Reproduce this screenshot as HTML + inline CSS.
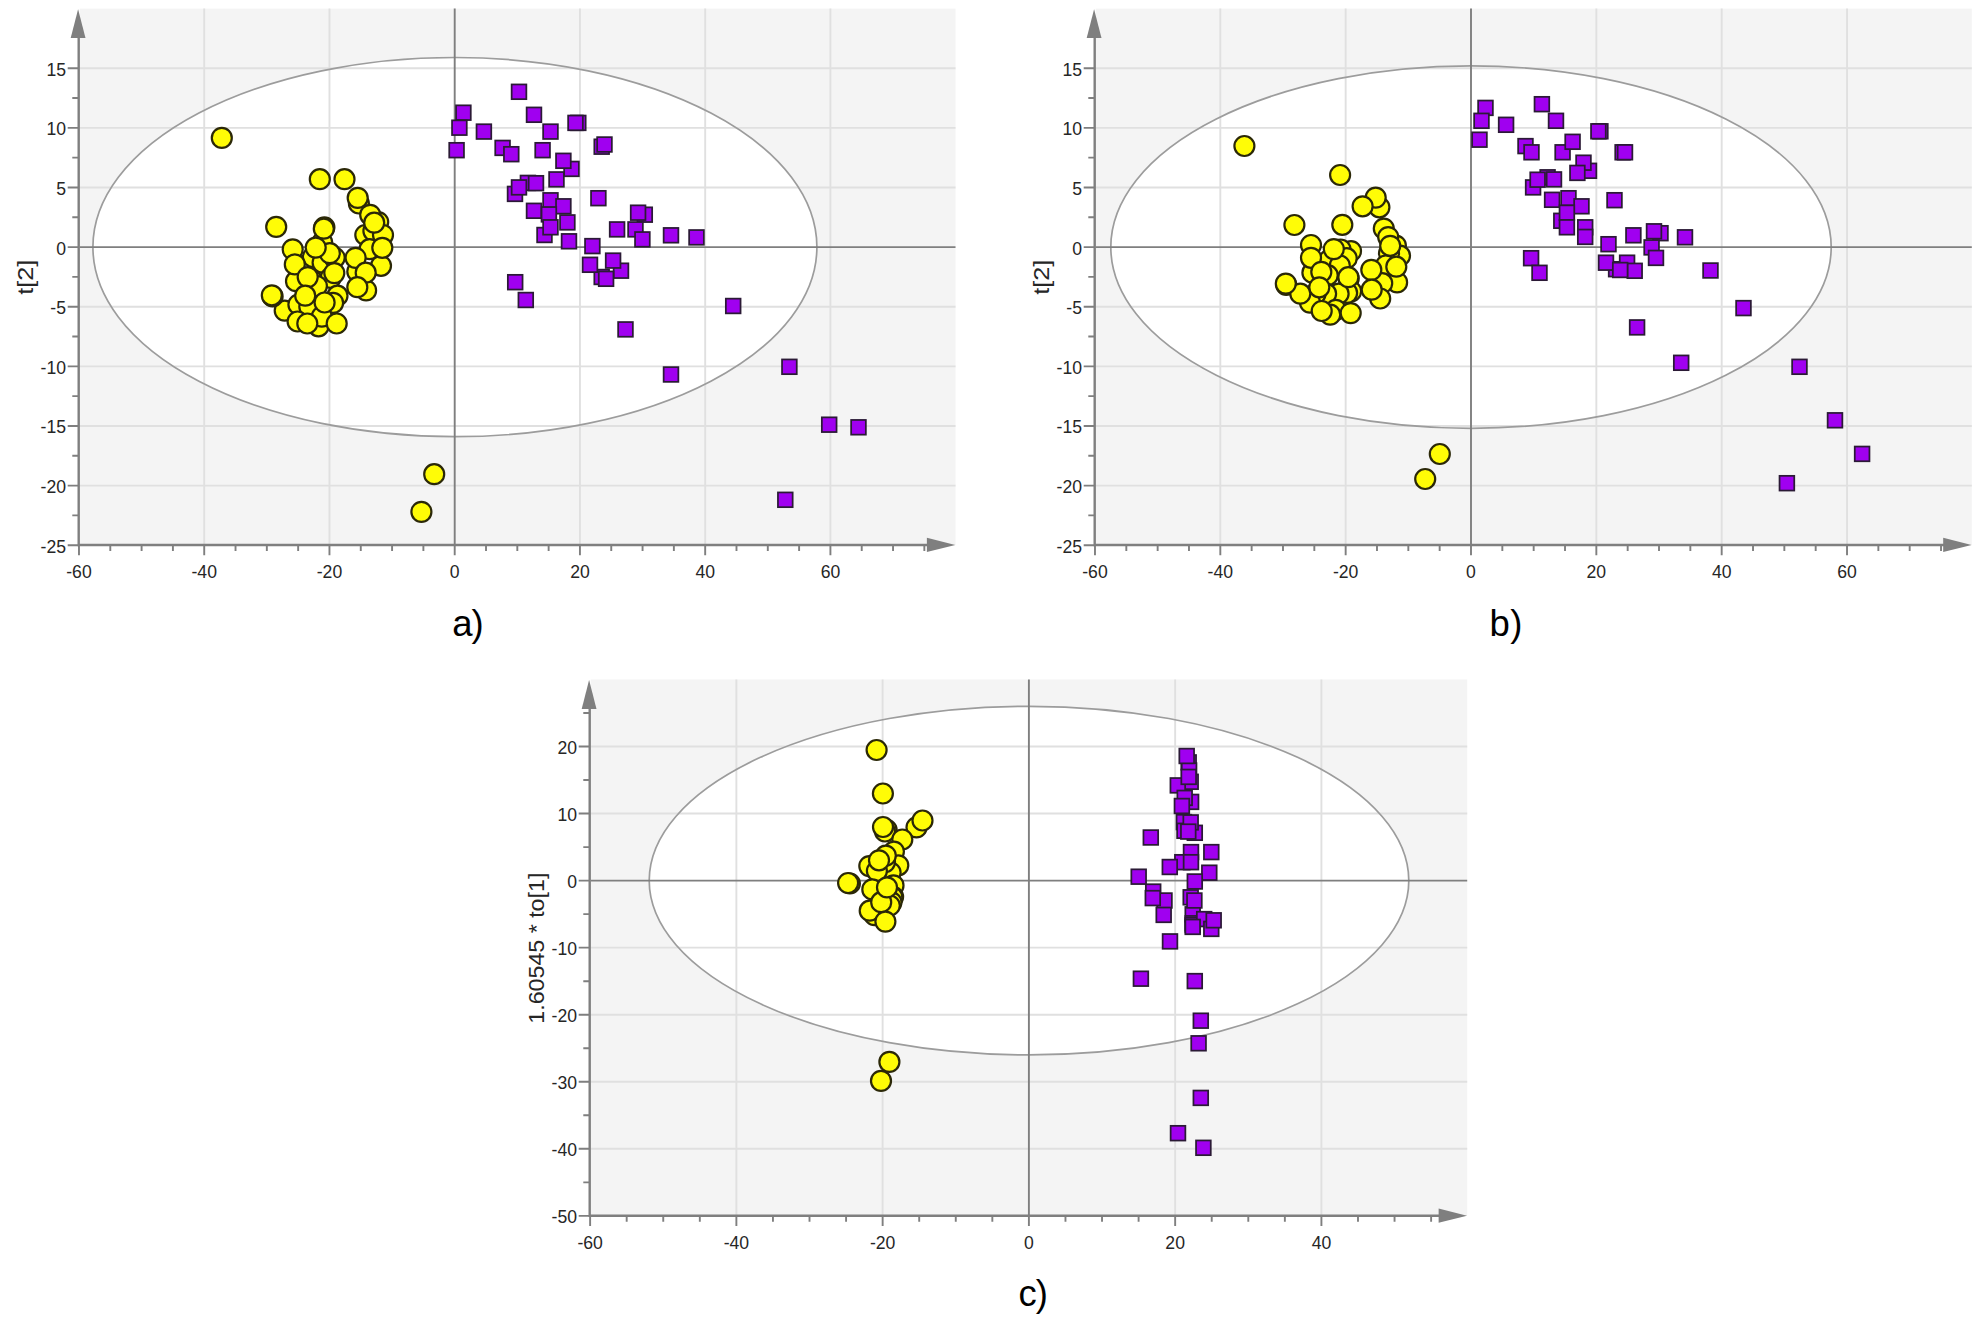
<!DOCTYPE html>
<html lang="en"><head><meta charset="utf-8"><title>Score plots</title>
<style>html,body{margin:0;padding:0;background:#fff}body{width:1984px;height:1318px;overflow:hidden}svg{display:block}text{font-family:"Liberation Sans",sans-serif}</style></head><body>
<svg width="1984" height="1318" viewBox="0 0 1984 1318">
<rect width="1984" height="1318" fill="#fff"/>
<g>
<rect x="79.7" y="8.6" width="875.8" height="536.4" fill="#f4f4f4"/>
<ellipse cx="454.9" cy="247.1" rx="362" ry="189.6" fill="#fff"/>
<path d="M204.22 8.6V545M329.46 8.6V545M579.94 8.6V545M705.18 8.6V545M830.42 8.6V545M79.7 485.6H955.5M79.7 425.98H955.5M79.7 366.35H955.5M79.7 306.73H955.5M79.7 187.47H955.5M79.7 127.85H955.5M79.7 68.22H955.5" stroke="#e0e0e0" stroke-width="1.9" fill="none"/>
<ellipse cx="454.9" cy="247.1" rx="362" ry="189.6" fill="none" stroke="#9c9c9c" stroke-width="1.7"/>
<path d="M79.7 247.1H955.5M454.7 8.6V545" stroke="#7f7f7f" stroke-width="1.9" fill="none"/>
<path d="M78.7 34.6V545H929.5" stroke="#7f7f7f" stroke-width="2.4" fill="none" stroke-linejoin="miter"/>
<path d="M78.98 545v10.2M204.22 545v10.2M329.46 545v10.2M454.7 545v10.2M579.94 545v10.2M705.18 545v10.2M830.42 545v10.2M110.29 545v6M141.6 545v6M172.91 545v6M235.53 545v6M266.84 545v6M298.15 545v6M360.77 545v6M392.08 545v6M423.39 545v6M486.01 545v6M517.32 545v6M548.63 545v6M611.25 545v6M642.56 545v6M673.87 545v6M736.49 545v6M767.8 545v6M799.11 545v6M861.73 545v6M893.04 545v6M924.35 545v6M78.7 545.23h-11M78.7 485.6h-11M78.7 425.98h-11M78.7 366.35h-11M78.7 306.73h-11M78.7 247.1h-11M78.7 187.47h-11M78.7 127.85h-11M78.7 68.22h-11M78.7 515.41h-6.4M78.7 455.79h-6.4M78.7 396.16h-6.4M78.7 336.54h-6.4M78.7 276.91h-6.4M78.7 217.29h-6.4M78.7 157.66h-6.4M78.7 98.04h-6.4" stroke="#7f7f7f" stroke-width="1.9" fill="none"/>
<path d="M78.1 9.2l-7.4 28.8h14.8z" fill="#7f7f7f"/>
<path d="M955.3 544.9l-28.4 -7.1v14.2z" fill="#7f7f7f"/>
<g fill="#fffc06" stroke="#2b2808" stroke-width="2.2">
<circle cx="284.7" cy="310.6" r="10.0"/>
<circle cx="365.3" cy="235" r="10.0"/>
<circle cx="358.9" cy="203.5" r="10.0"/>
<circle cx="378.2" cy="222.1" r="10.0"/>
<circle cx="373.4" cy="231" r="10.0"/>
<circle cx="383" cy="235" r="10.0"/>
<circle cx="369.6" cy="249.2" r="10.0"/>
<circle cx="324.4" cy="227.3" r="10.0"/>
<circle cx="322.2" cy="242.5" r="10.0"/>
<circle cx="312.9" cy="257" r="10.0"/>
<circle cx="322.6" cy="262.6" r="10.0"/>
<circle cx="334.7" cy="257.8" r="10.0"/>
<circle cx="329.8" cy="253.2" r="10.0"/>
<circle cx="330.6" cy="277.9" r="10.0"/>
<circle cx="311.3" cy="279.5" r="10.0"/>
<circle cx="316.9" cy="286" r="10.0"/>
<circle cx="357.3" cy="271.5" r="10.0"/>
<circle cx="381" cy="265.8" r="10.0"/>
<circle cx="366.1" cy="290.4" r="10.0"/>
<circle cx="296" cy="281.2" r="10.0"/>
<circle cx="298.4" cy="304.5" r="10.0"/>
<circle cx="337.5" cy="295.7" r="10.0"/>
<circle cx="333.1" cy="302.9" r="10.0"/>
<circle cx="309.3" cy="306.6" r="10.0"/>
<circle cx="297.6" cy="321.5" r="10.0"/>
<circle cx="318.5" cy="326.3" r="10.0"/>
<circle cx="321.8" cy="316.6" r="10.0"/>
<circle cx="272.6" cy="296.4" r="10.0"/>
<circle cx="319.8" cy="179.2" r="10.0"/>
<circle cx="344.5" cy="179.2" r="10.0"/>
<circle cx="357.7" cy="197.9" r="10.0"/>
<circle cx="370.2" cy="214.8" r="10.0"/>
<circle cx="374.2" cy="222.7" r="10.0"/>
<circle cx="276.2" cy="226.9" r="10.0"/>
<circle cx="323.8" cy="228.7" r="10.0"/>
<circle cx="292.7" cy="249.4" r="10.0"/>
<circle cx="315.7" cy="247.6" r="10.0"/>
<circle cx="382.3" cy="247.8" r="10.0"/>
<circle cx="355.6" cy="257.9" r="10.0"/>
<circle cx="294.8" cy="264.4" r="10.0"/>
<circle cx="334.3" cy="273.1" r="10.0"/>
<circle cx="365.7" cy="272.7" r="10.0"/>
<circle cx="307.7" cy="277.1" r="10.0"/>
<circle cx="357.3" cy="287.2" r="10.0"/>
<circle cx="305.2" cy="295.7" r="10.0"/>
<circle cx="271.8" cy="295.3" r="10.0"/>
<circle cx="324.6" cy="302.5" r="10.0"/>
<circle cx="307.3" cy="323.5" r="10.0"/>
<circle cx="336.7" cy="323.5" r="10.0"/>
<circle cx="221.8" cy="137.9" r="10.0"/>
<circle cx="434.2" cy="474.2" r="10.0"/>
<circle cx="421.4" cy="511.9" r="10.0"/>
</g>
<g fill="#a000f0" stroke="#2b1a36" stroke-width="1.75">
<rect x="456.05" y="105.35" width="14.7" height="14.7"/>
<rect x="570.95" y="115.55" width="14.7" height="14.7"/>
<rect x="495.25" y="140.55" width="14.7" height="14.7"/>
<rect x="594.35" y="139.35" width="14.7" height="14.7"/>
<rect x="564.15" y="161.55" width="14.7" height="14.7"/>
<rect x="520.55" y="175.55" width="14.7" height="14.7"/>
<rect x="507.65" y="186.55" width="14.7" height="14.7"/>
<rect x="543.15" y="192.95" width="14.7" height="14.7"/>
<rect x="537.15" y="227.65" width="14.7" height="14.7"/>
<rect x="637.45" y="207.35" width="14.7" height="14.7"/>
<rect x="628.15" y="222.05" width="14.7" height="14.7"/>
<rect x="613.65" y="263.35" width="14.7" height="14.7"/>
<rect x="594.35" y="269.65" width="14.7" height="14.7"/>
<rect x="511.65" y="84.45" width="14.7" height="14.7"/>
<rect x="452.05" y="120.35" width="14.7" height="14.7"/>
<rect x="476.55" y="124.25" width="14.7" height="14.7"/>
<rect x="526.65" y="107.45" width="14.7" height="14.7"/>
<rect x="543.15" y="124.25" width="14.7" height="14.7"/>
<rect x="568.15" y="115.55" width="14.7" height="14.7"/>
<rect x="449.25" y="142.85" width="14.7" height="14.7"/>
<rect x="503.95" y="146.85" width="14.7" height="14.7"/>
<rect x="535.25" y="142.85" width="14.7" height="14.7"/>
<rect x="597.15" y="137.15" width="14.7" height="14.7"/>
<rect x="556.05" y="153.45" width="14.7" height="14.7"/>
<rect x="549.15" y="172.05" width="14.7" height="14.7"/>
<rect x="528.65" y="175.85" width="14.7" height="14.7"/>
<rect x="511.65" y="180.05" width="14.7" height="14.7"/>
<rect x="556.05" y="198.95" width="14.7" height="14.7"/>
<rect x="526.65" y="203.45" width="14.7" height="14.7"/>
<rect x="541.55" y="207.05" width="14.7" height="14.7"/>
<rect x="560.05" y="215.05" width="14.7" height="14.7"/>
<rect x="543.15" y="219.95" width="14.7" height="14.7"/>
<rect x="561.65" y="233.95" width="14.7" height="14.7"/>
<rect x="591.05" y="190.85" width="14.7" height="14.7"/>
<rect x="630.75" y="205.35" width="14.7" height="14.7"/>
<rect x="609.75" y="222.05" width="14.7" height="14.7"/>
<rect x="635.05" y="232.05" width="14.7" height="14.7"/>
<rect x="663.65" y="227.95" width="14.7" height="14.7"/>
<rect x="689.15" y="230.05" width="14.7" height="14.7"/>
<rect x="585.05" y="238.75" width="14.7" height="14.7"/>
<rect x="582.65" y="257.45" width="14.7" height="14.7"/>
<rect x="605.75" y="253.25" width="14.7" height="14.7"/>
<rect x="598.75" y="271.45" width="14.7" height="14.7"/>
<rect x="507.85" y="274.85" width="14.7" height="14.7"/>
<rect x="518.45" y="292.65" width="14.7" height="14.7"/>
<rect x="725.85" y="298.65" width="14.7" height="14.7"/>
<rect x="618.15" y="322.05" width="14.7" height="14.7"/>
<rect x="663.65" y="367.15" width="14.7" height="14.7"/>
<rect x="782.05" y="359.45" width="14.7" height="14.7"/>
<rect x="821.85" y="417.35" width="14.7" height="14.7"/>
<rect x="851.15" y="419.95" width="14.7" height="14.7"/>
<rect x="777.95" y="492.45" width="14.7" height="14.7"/>
</g>
<g font-size="17.6" fill="#262626">
<text x="78.98" y="578.2" text-anchor="middle">-60</text>
<text x="204.22" y="578.2" text-anchor="middle">-40</text>
<text x="329.46" y="578.2" text-anchor="middle">-20</text>
<text x="454.7" y="578.2" text-anchor="middle">0</text>
<text x="579.94" y="578.2" text-anchor="middle">20</text>
<text x="705.18" y="578.2" text-anchor="middle">40</text>
<text x="830.42" y="578.2" text-anchor="middle">60</text>
<text x="66" y="552.73" text-anchor="end">-25</text>
<text x="66" y="493.1" text-anchor="end">-20</text>
<text x="66" y="433.48" text-anchor="end">-15</text>
<text x="66" y="373.85" text-anchor="end">-10</text>
<text x="66" y="314.23" text-anchor="end">-5</text>
<text x="66" y="254.6" text-anchor="end">0</text>
<text x="66" y="194.97" text-anchor="end">5</text>
<text x="66" y="135.35" text-anchor="end">10</text>
<text x="66" y="75.72" text-anchor="end">15</text>
</g>
<text transform="translate(33.4 277.3) rotate(-90)" text-anchor="middle" font-size="22.3" fill="#262626" textLength="35" lengthAdjust="spacingAndGlyphs">t[2]</text>
</g>
<g>
<rect x="1095.7" y="8.6" width="876.1" height="536.4" fill="#f4f4f4"/>
<ellipse cx="1471" cy="247.1" rx="360.2" ry="181.2" fill="#fff"/>
<path d="M1220.32 8.6V545M1345.66 8.6V545M1596.34 8.6V545M1721.68 8.6V545M1847.02 8.6V545M1095.7 485.6H1971.8M1095.7 425.98H1971.8M1095.7 366.35H1971.8M1095.7 306.73H1971.8M1095.7 187.47H1971.8M1095.7 127.85H1971.8M1095.7 68.22H1971.8" stroke="#e0e0e0" stroke-width="1.9" fill="none"/>
<ellipse cx="1471" cy="247.1" rx="360.2" ry="181.2" fill="none" stroke="#9c9c9c" stroke-width="1.7"/>
<path d="M1095.7 247.1H1971.8M1471 8.6V545" stroke="#7f7f7f" stroke-width="1.9" fill="none"/>
<path d="M1094.7 34.6V545H1945.8" stroke="#7f7f7f" stroke-width="2.4" fill="none" stroke-linejoin="miter"/>
<path d="M1094.98 545v10.2M1220.32 545v10.2M1345.66 545v10.2M1471 545v10.2M1596.34 545v10.2M1721.68 545v10.2M1847.02 545v10.2M1126.32 545v6M1157.65 545v6M1188.98 545v6M1251.65 545v6M1282.99 545v6M1314.33 545v6M1376.99 545v6M1408.33 545v6M1439.66 545v6M1502.34 545v6M1533.67 545v6M1565.01 545v6M1627.67 545v6M1659.01 545v6M1690.35 545v6M1753.02 545v6M1784.35 545v6M1815.68 545v6M1878.36 545v6M1909.69 545v6M1941.03 545v6M1094.7 545.23h-11M1094.7 485.6h-11M1094.7 425.98h-11M1094.7 366.35h-11M1094.7 306.73h-11M1094.7 247.1h-11M1094.7 187.47h-11M1094.7 127.85h-11M1094.7 68.22h-11M1094.7 515.41h-6.4M1094.7 455.79h-6.4M1094.7 396.16h-6.4M1094.7 336.54h-6.4M1094.7 276.91h-6.4M1094.7 217.29h-6.4M1094.7 157.66h-6.4M1094.7 98.04h-6.4" stroke="#7f7f7f" stroke-width="1.9" fill="none"/>
<path d="M1094.1 9.2l-7.4 28.8h14.8z" fill="#7f7f7f"/>
<path d="M1971.6 544.9l-28.4 -7.1v14.2z" fill="#7f7f7f"/>
<g fill="#fffc06" stroke="#2b2808" stroke-width="2.2">
<circle cx="1379.4" cy="207.3" r="10.0"/>
<circle cx="1395.9" cy="245.6" r="10.0"/>
<circle cx="1351" cy="251.1" r="10.0"/>
<circle cx="1340.6" cy="249.5" r="10.0"/>
<circle cx="1400" cy="255.7" r="10.0"/>
<circle cx="1389" cy="253.4" r="10.0"/>
<circle cx="1385.8" cy="265.5" r="10.0"/>
<circle cx="1346.7" cy="258.2" r="10.0"/>
<circle cx="1329.4" cy="259.8" r="10.0"/>
<circle cx="1339.8" cy="265.5" r="10.0"/>
<circle cx="1312.4" cy="272.7" r="10.0"/>
<circle cx="1327.7" cy="275.2" r="10.0"/>
<circle cx="1348.7" cy="278.4" r="10.0"/>
<circle cx="1286.2" cy="284.8" r="10.0"/>
<circle cx="1397.1" cy="282.4" r="10.0"/>
<circle cx="1382.2" cy="283.2" r="10.0"/>
<circle cx="1380.2" cy="298.5" r="10.0"/>
<circle cx="1351.1" cy="291.3" r="10.0"/>
<circle cx="1347.1" cy="292.9" r="10.0"/>
<circle cx="1338.6" cy="293.7" r="10.0"/>
<circle cx="1326.1" cy="293.7" r="10.0"/>
<circle cx="1315.6" cy="293.7" r="10.0"/>
<circle cx="1310" cy="302.6" r="10.0"/>
<circle cx="1335.8" cy="309.8" r="10.0"/>
<circle cx="1330.2" cy="314.7" r="10.0"/>
<circle cx="1300.3" cy="293.7" r="10.0"/>
<circle cx="1311" cy="245" r="10.0"/>
<circle cx="1383.8" cy="228.6" r="10.0"/>
<circle cx="1340.1" cy="175" r="10.0"/>
<circle cx="1375.7" cy="197.6" r="10.0"/>
<circle cx="1362.6" cy="206.3" r="10.0"/>
<circle cx="1294.4" cy="225" r="10.0"/>
<circle cx="1342.3" cy="224.8" r="10.0"/>
<circle cx="1388.2" cy="237.1" r="10.0"/>
<circle cx="1390.2" cy="245.8" r="10.0"/>
<circle cx="1311" cy="257.8" r="10.0"/>
<circle cx="1333.8" cy="249.1" r="10.0"/>
<circle cx="1396.3" cy="266.7" r="10.0"/>
<circle cx="1371.3" cy="269.9" r="10.0"/>
<circle cx="1321.3" cy="271.9" r="10.0"/>
<circle cx="1348.3" cy="277.2" r="10.0"/>
<circle cx="1285.8" cy="283.6" r="10.0"/>
<circle cx="1319.3" cy="287.3" r="10.0"/>
<circle cx="1371.7" cy="289.7" r="10.0"/>
<circle cx="1321.7" cy="311" r="10.0"/>
<circle cx="1350.7" cy="313.1" r="10.0"/>
<circle cx="1244.4" cy="146" r="10.0"/>
<circle cx="1439.8" cy="454" r="10.0"/>
<circle cx="1425.2" cy="479" r="10.0"/>
</g>
<g fill="#a000f0" stroke="#2b1a36" stroke-width="1.75">
<rect x="1478.15" y="100.55" width="14.7" height="14.7"/>
<rect x="1593.05" y="123.95" width="14.7" height="14.7"/>
<rect x="1518.15" y="138.75" width="14.7" height="14.7"/>
<rect x="1555.25" y="144.95" width="14.7" height="14.7"/>
<rect x="1615.25" y="144.95" width="14.7" height="14.7"/>
<rect x="1581.65" y="163.45" width="14.7" height="14.7"/>
<rect x="1576.15" y="155.35" width="14.7" height="14.7"/>
<rect x="1540.25" y="169.95" width="14.7" height="14.7"/>
<rect x="1525.75" y="180.05" width="14.7" height="14.7"/>
<rect x="1553.95" y="213.45" width="14.7" height="14.7"/>
<rect x="1653.15" y="225.85" width="14.7" height="14.7"/>
<rect x="1644.25" y="240.05" width="14.7" height="14.7"/>
<rect x="1608.75" y="261.85" width="14.7" height="14.7"/>
<rect x="1619.75" y="255.35" width="14.7" height="14.7"/>
<rect x="1627.35" y="263.45" width="14.7" height="14.7"/>
<rect x="1561.15" y="190.85" width="14.7" height="14.7"/>
<rect x="1544.75" y="192.45" width="14.7" height="14.7"/>
<rect x="1577.85" y="219.95" width="14.7" height="14.7"/>
<rect x="1474.15" y="113.45" width="14.7" height="14.7"/>
<rect x="1472.15" y="132.35" width="14.7" height="14.7"/>
<rect x="1498.75" y="117.45" width="14.7" height="14.7"/>
<rect x="1534.55" y="96.85" width="14.7" height="14.7"/>
<rect x="1548.65" y="113.45" width="14.7" height="14.7"/>
<rect x="1591.05" y="123.95" width="14.7" height="14.7"/>
<rect x="1524.15" y="144.95" width="14.7" height="14.7"/>
<rect x="1565.25" y="134.45" width="14.7" height="14.7"/>
<rect x="1617.65" y="144.95" width="14.7" height="14.7"/>
<rect x="1570.05" y="165.55" width="14.7" height="14.7"/>
<rect x="1546.65" y="172.05" width="14.7" height="14.7"/>
<rect x="1530.25" y="172.35" width="14.7" height="14.7"/>
<rect x="1574.15" y="198.95" width="14.7" height="14.7"/>
<rect x="1607.15" y="192.85" width="14.7" height="14.7"/>
<rect x="1559.55" y="205.35" width="14.7" height="14.7"/>
<rect x="1559.55" y="219.95" width="14.7" height="14.7"/>
<rect x="1577.85" y="229.55" width="14.7" height="14.7"/>
<rect x="1601.15" y="236.85" width="14.7" height="14.7"/>
<rect x="1626.05" y="227.95" width="14.7" height="14.7"/>
<rect x="1646.65" y="223.95" width="14.7" height="14.7"/>
<rect x="1677.65" y="229.95" width="14.7" height="14.7"/>
<rect x="1648.65" y="250.55" width="14.7" height="14.7"/>
<rect x="1523.75" y="250.85" width="14.7" height="14.7"/>
<rect x="1532.15" y="265.45" width="14.7" height="14.7"/>
<rect x="1598.65" y="255.35" width="14.7" height="14.7"/>
<rect x="1612.85" y="262.65" width="14.7" height="14.7"/>
<rect x="1703.15" y="263.15" width="14.7" height="14.7"/>
<rect x="1736.15" y="300.75" width="14.7" height="14.7"/>
<rect x="1629.75" y="320.05" width="14.7" height="14.7"/>
<rect x="1673.85" y="355.45" width="14.7" height="14.7"/>
<rect x="1792.15" y="359.45" width="14.7" height="14.7"/>
<rect x="1827.65" y="412.95" width="14.7" height="14.7"/>
<rect x="1854.75" y="446.55" width="14.7" height="14.7"/>
<rect x="1779.55" y="475.85" width="14.7" height="14.7"/>
</g>
<g font-size="17.6" fill="#262626">
<text x="1094.98" y="578.2" text-anchor="middle">-60</text>
<text x="1220.32" y="578.2" text-anchor="middle">-40</text>
<text x="1345.66" y="578.2" text-anchor="middle">-20</text>
<text x="1471" y="578.2" text-anchor="middle">0</text>
<text x="1596.34" y="578.2" text-anchor="middle">20</text>
<text x="1721.68" y="578.2" text-anchor="middle">40</text>
<text x="1847.02" y="578.2" text-anchor="middle">60</text>
<text x="1082" y="552.73" text-anchor="end">-25</text>
<text x="1082" y="493.1" text-anchor="end">-20</text>
<text x="1082" y="433.48" text-anchor="end">-15</text>
<text x="1082" y="373.85" text-anchor="end">-10</text>
<text x="1082" y="314.23" text-anchor="end">-5</text>
<text x="1082" y="254.6" text-anchor="end">0</text>
<text x="1082" y="194.97" text-anchor="end">5</text>
<text x="1082" y="135.35" text-anchor="end">10</text>
<text x="1082" y="75.72" text-anchor="end">15</text>
</g>
<text transform="translate(1049.4 277.3) rotate(-90)" text-anchor="middle" font-size="22.3" fill="#262626" textLength="35" lengthAdjust="spacingAndGlyphs">t[2]</text>
</g>
<g>
<rect x="590.7" y="679.5" width="876.5" height="536.3" fill="#f4f4f4"/>
<ellipse cx="1029" cy="880.6" rx="379.8" ry="174.3" fill="#fff"/>
<path d="M736.38 679.5V1215.8M882.64 679.5V1215.8M1175.16 679.5V1215.8M1321.42 679.5V1215.8M590.7 1148.8H1467.2M590.7 1081.75H1467.2M590.7 1014.7H1467.2M590.7 947.65H1467.2M590.7 813.55H1467.2M590.7 746.5H1467.2" stroke="#e0e0e0" stroke-width="1.9" fill="none"/>
<ellipse cx="1029" cy="880.6" rx="379.8" ry="174.3" fill="none" stroke="#9c9c9c" stroke-width="1.7"/>
<path d="M590.7 880.6H1467.2M1028.9 679.5V1215.8" stroke="#7f7f7f" stroke-width="1.9" fill="none"/>
<path d="M589.7 705.5V1215.8H1441.2" stroke="#7f7f7f" stroke-width="2.4" fill="none" stroke-linejoin="miter"/>
<path d="M590.12 1215.8v10.2M736.38 1215.8v10.2M882.64 1215.8v10.2M1028.9 1215.8v10.2M1175.16 1215.8v10.2M1321.42 1215.8v10.2M626.69 1215.8v6M663.25 1215.8v6M699.82 1215.8v6M772.95 1215.8v6M809.51 1215.8v6M846.08 1215.8v6M919.21 1215.8v6M955.77 1215.8v6M992.34 1215.8v6M1065.47 1215.8v6M1102.03 1215.8v6M1138.6 1215.8v6M1211.73 1215.8v6M1248.29 1215.8v6M1284.86 1215.8v6M1357.99 1215.8v6M1394.55 1215.8v6M1431.12 1215.8v6M589.7 1215.85h-11M589.7 1148.8h-11M589.7 1081.75h-11M589.7 1014.7h-11M589.7 947.65h-11M589.7 880.6h-11M589.7 813.55h-11M589.7 746.5h-11M589.7 1182.33h-6.4M589.7 1115.28h-6.4M589.7 1048.22h-6.4M589.7 981.18h-6.4M589.7 914.12h-6.4M589.7 847.08h-6.4M589.7 780.02h-6.4M589.7 712.98h-6.4" stroke="#7f7f7f" stroke-width="1.9" fill="none"/>
<path d="M589.1 680.1l-7.4 28.8h14.8z" fill="#7f7f7f"/>
<path d="M1467 1215.7l-28.4 -7.1v14.2z" fill="#7f7f7f"/>
<g fill="#fffc06" stroke="#2b2808" stroke-width="2.2">
<circle cx="916.5" cy="827.4" r="10.0"/>
<circle cx="886.6" cy="829.8" r="10.0"/>
<circle cx="885" cy="831.5" r="10.0"/>
<circle cx="902.3" cy="839.5" r="10.0"/>
<circle cx="893.9" cy="851.6" r="10.0"/>
<circle cx="898.3" cy="865.3" r="10.0"/>
<circle cx="869.3" cy="866.1" r="10.0"/>
<circle cx="890.6" cy="872.6" r="10.0"/>
<circle cx="885" cy="862.1" r="10.0"/>
<circle cx="876.9" cy="871" r="10.0"/>
<circle cx="849.9" cy="883.5" r="10.0"/>
<circle cx="893.5" cy="885.4" r="10.0"/>
<circle cx="872.3" cy="889.4" r="10.0"/>
<circle cx="893.1" cy="896.8" r="10.0"/>
<circle cx="892.3" cy="897.4" r="10.0"/>
<circle cx="891.5" cy="902.3" r="10.0"/>
<circle cx="889.8" cy="905.5" r="10.0"/>
<circle cx="874.5" cy="915.2" r="10.0"/>
<circle cx="869.7" cy="910.7" r="10.0"/>
<circle cx="876.6" cy="750" r="10.0"/>
<circle cx="882.9" cy="793.5" r="10.0"/>
<circle cx="922.5" cy="820.5" r="10.0"/>
<circle cx="883" cy="827" r="10.0"/>
<circle cx="885.8" cy="855.6" r="10.0"/>
<circle cx="879" cy="860.3" r="10.0"/>
<circle cx="848.1" cy="883" r="10.0"/>
<circle cx="881.2" cy="902.2" r="10.0"/>
<circle cx="887" cy="887.4" r="10.0"/>
<circle cx="885.4" cy="921.6" r="10.0"/>
<circle cx="889.4" cy="1061.9" r="10.0"/>
<circle cx="881" cy="1080.9" r="10.0"/>
</g>
<g fill="#a000f0" stroke="#2b1a36" stroke-width="1.75">
<rect x="1181.35" y="755.05" width="14.7" height="14.7"/>
<rect x="1181.75" y="763.15" width="14.7" height="14.7"/>
<rect x="1183.35" y="774.45" width="14.7" height="14.7"/>
<rect x="1170.45" y="778.05" width="14.7" height="14.7"/>
<rect x="1183.75" y="794.55" width="14.7" height="14.7"/>
<rect x="1177.35" y="790.55" width="14.7" height="14.7"/>
<rect x="1176.55" y="814.75" width="14.7" height="14.7"/>
<rect x="1177.15" y="823.45" width="14.7" height="14.7"/>
<rect x="1187.45" y="825.45" width="14.7" height="14.7"/>
<rect x="1183.65" y="844.75" width="14.7" height="14.7"/>
<rect x="1174.95" y="854.85" width="14.7" height="14.7"/>
<rect x="1201.95" y="865.35" width="14.7" height="14.7"/>
<rect x="1145.85" y="884.25" width="14.7" height="14.7"/>
<rect x="1157.15" y="893.15" width="14.7" height="14.7"/>
<rect x="1183.35" y="889.95" width="14.7" height="14.7"/>
<rect x="1185.35" y="906.95" width="14.7" height="14.7"/>
<rect x="1185.35" y="915.95" width="14.7" height="14.7"/>
<rect x="1185.35" y="917.75" width="14.7" height="14.7"/>
<rect x="1196.85" y="911.75" width="14.7" height="14.7"/>
<rect x="1203.95" y="921.55" width="14.7" height="14.7"/>
<rect x="1179.35" y="748.65" width="14.7" height="14.7"/>
<rect x="1181.35" y="769.55" width="14.7" height="14.7"/>
<rect x="1174.55" y="798.65" width="14.7" height="14.7"/>
<rect x="1183.35" y="815.05" width="14.7" height="14.7"/>
<rect x="1180.95" y="824.25" width="14.7" height="14.7"/>
<rect x="1143.45" y="830.15" width="14.7" height="14.7"/>
<rect x="1203.95" y="844.75" width="14.7" height="14.7"/>
<rect x="1183.65" y="854.85" width="14.7" height="14.7"/>
<rect x="1162.45" y="859.65" width="14.7" height="14.7"/>
<rect x="1131.35" y="869.35" width="14.7" height="14.7"/>
<rect x="1187.45" y="874.15" width="14.7" height="14.7"/>
<rect x="1145.45" y="890.75" width="14.7" height="14.7"/>
<rect x="1187.05" y="893.15" width="14.7" height="14.7"/>
<rect x="1156.35" y="907.55" width="14.7" height="14.7"/>
<rect x="1206.35" y="912.95" width="14.7" height="14.7"/>
<rect x="1185.35" y="919.55" width="14.7" height="14.7"/>
<rect x="1162.65" y="934.05" width="14.7" height="14.7"/>
<rect x="1133.55" y="971.35" width="14.7" height="14.7"/>
<rect x="1187.45" y="973.75" width="14.7" height="14.7"/>
<rect x="1193.45" y="1013.35" width="14.7" height="14.7"/>
<rect x="1191.25" y="1035.95" width="14.7" height="14.7"/>
<rect x="1193.45" y="1090.55" width="14.7" height="14.7"/>
<rect x="1170.65" y="1125.85" width="14.7" height="14.7"/>
<rect x="1196.05" y="1140.45" width="14.7" height="14.7"/>
</g>
<g font-size="17.6" fill="#262626">
<text x="590.12" y="1249" text-anchor="middle">-60</text>
<text x="736.38" y="1249" text-anchor="middle">-40</text>
<text x="882.64" y="1249" text-anchor="middle">-20</text>
<text x="1028.9" y="1249" text-anchor="middle">0</text>
<text x="1175.16" y="1249" text-anchor="middle">20</text>
<text x="1321.42" y="1249" text-anchor="middle">40</text>
<text x="577" y="1223.35" text-anchor="end">-50</text>
<text x="577" y="1156.3" text-anchor="end">-40</text>
<text x="577" y="1089.25" text-anchor="end">-30</text>
<text x="577" y="1022.2" text-anchor="end">-20</text>
<text x="577" y="955.15" text-anchor="end">-10</text>
<text x="577" y="888.1" text-anchor="end">0</text>
<text x="577" y="821.05" text-anchor="end">10</text>
<text x="577" y="754" text-anchor="end">20</text>
</g>
<text transform="translate(544.4 948.15) rotate(-90)" text-anchor="middle" font-size="22.3" fill="#262626" textLength="151" lengthAdjust="spacingAndGlyphs">1.60545 * to[1]</text>
</g>
<text y="635.8" font-size="36.5" fill="#000"><tspan x="452.2">a</tspan><tspan x="471.6">)</tspan></text>
<text y="635.8" font-size="36.5" fill="#000"><tspan x="1489.5">b</tspan><tspan x="1510.2">)</tspan></text>
<text y="1306.4" font-size="36.5" fill="#000"><tspan x="1018.4">c</tspan><tspan x="1035.7">)</tspan></text>
</svg></body></html>
